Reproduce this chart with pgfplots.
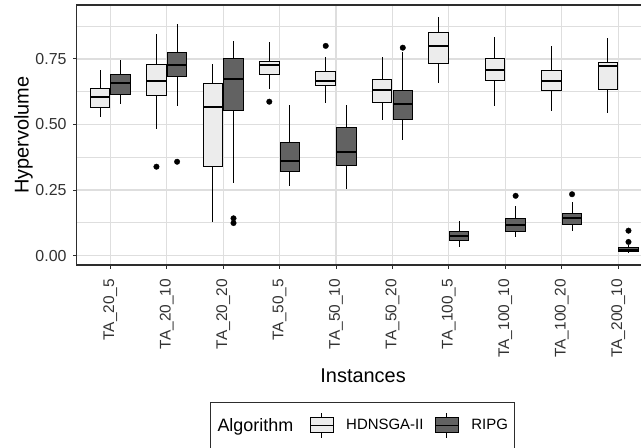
\documentclass[border=0pt]{standalone}
\usepackage{fontspec}
\setmainfont{Liberation Sans}
\usepackage{pgfplots}
\pgfplotsset{compat=1.18}
\usepgfplotslibrary{statistics}

\definecolor{hdFill}{RGB}{236,236,236}
\definecolor{ripgFill}{RGB}{98,98,98}
\definecolor{gridGray}{RGB}{222,222,222}
\definecolor{tickText}{RGB}{50,50,50}
\definecolor{frameGray}{RGB}{45,45,45}

\pgfplotsset{
  boxbase/.style={
    black, line width=1bp,
    mark=*, mark size=2.8bp, mark options={fill=black, draw=black, line width=0.3bp},
    boxplot/draw direction=y,
    boxplot/box extend=0.345,
    boxplot/whisker extend=0,
    boxplot/every median/.style={draw=black, line width=2bp},
    boxplot/every whisker/.style={draw=black, line width=1bp},
  },
  hd/.style={boxbase, boxplot/every box/.style={draw=black, fill=hdFill, line width=1bp}},
  ripg/.style={boxbase, boxplot/every box/.style={draw=black, fill=ripgFill, line width=1bp}},
  hdleg/.style={legend image code/.code={
    \path[draw=none, fill=none] (-15bp,0) -- (34bp,0);
    \draw[black, line width=1bp] (11.5bp,-12.5bp) -- (11.5bp,12.5bp);
    \draw[black, line width=1bp, fill=hdFill] (0,-7.5bp) rectangle (23bp,7.5bp);
    \draw[black, line width=1.5bp] (0,0) -- (23bp,0);
  }},
  ripgleg/.style={legend image code/.code={
    \path[draw=none, fill=none] (-10bp,0) -- (34bp,0);
    \draw[black, line width=1bp] (11.5bp,-12.5bp) -- (11.5bp,12.5bp);
    \draw[black, line width=1bp, fill=ripgFill] (0,-7.5bp) rectangle (23bp,7.5bp);
    \draw[black, line width=1.5bp] (0,0) -- (23bp,0);
  }},
}

\begin{document}
\begin{tikzpicture}
\useasboundingbox (0,0) rectangle (641bp,448bp);
\begin{scope}
\clip (0,0) rectangle (641bp,448bp);
\begin{axis}[
  at={(76.5bp,183bp)}, anchor=south west,
  scale only axis, width=575.5bp, height=260bp,
  xmin=0.4, xmax=10.6, ymin=-0.036, ymax=0.956,
  xtick={1,...,10},
  xticklabels={TA\_20\_5,TA\_20\_10,TA\_20\_20,TA\_50\_5,TA\_50\_10,TA\_50\_20,TA\_100\_5,TA\_100\_10,TA\_100\_20,TA\_200\_10},
  ytick={0,0.25,0.5,0.75},
  yticklabels={0.00,0.25,0.50,0.75},
  minor ytick={0.125,0.375,0.625,0.875},
  grid=both,
  major grid style={gridGray, line width=1.2bp},
  minor grid style={gridGray, line width=0.9bp},
  axis line style={draw=frameGray, line width=1.2bp},
  tick align=outside, tick pos=left,
  major tick length=3.5bp, minor tick length=0pt,
  tick style={frameGray, line width=1bp},
  xticklabel shift=7bp,
  yticklabel shift=3bp,
  xticklabel style={rotate=90, anchor=east, font=\fontsize{15.5}{18}\selectfont, text=tickText},
  yticklabel style={font=\fontsize{16}{18}\selectfont, text=tickText},
  xlabel={Instances},
  ylabel={Hypervolume},
  xlabel style={at={(axis description cs:0.498,-0.427)}, anchor=center, font=\fontsize{20}{22}\selectfont},
  ylabel style={at={(axis description cs:-0.092,0.5)}, anchor=center, font=\fontsize{20}{22}\selectfont},
  legend columns=-1,
  legend style={at={(axis description cs:0.232,-0.526)}, anchor=north west,
    draw=frameGray, line width=1bp, inner xsep=5bp, inner ysep=10bp,
    font=\fontsize{15}{18}\selectfont},
]
\addlegendimage{empty legend}
\addlegendentry{\fontsize{18}{20}\selectfont Algorithm}
\addlegendimage{hdleg}
\addlegendentry{HDNSGA-II}
\addlegendimage{ripgleg}
\addlegendentry{RIPG}

% TA_20_5
\addplot[hd, boxplot prepared={draw position=0.817, lower whisker=0.527, lower quartile=0.563, median=0.606, upper quartile=0.638, upper whisker=0.708}] coordinates {};
\addplot[ripg, boxplot prepared={draw position=1.183, lower whisker=0.577, lower quartile=0.616, median=0.660, upper quartile=0.690, upper whisker=0.746}] coordinates {};
% TA_20_10
\addplot[hd, boxplot prepared={draw position=1.817, lower whisker=0.484, lower quartile=0.611, median=0.665, upper quartile=0.730, upper whisker=0.844}] table[row sep=\\, y index=0] {data\\0.339\\};
\addplot[ripg, boxplot prepared={draw position=2.183, lower whisker=0.571, lower quartile=0.685, median=0.726, upper quartile=0.774, upper whisker=0.882}] table[row sep=\\, y index=0] {data\\0.358\\};
% TA_20_20
\addplot[hd, boxplot prepared={draw position=2.817, lower whisker=0.129, lower quartile=0.339, median=0.566, upper quartile=0.657, upper whisker=0.730}] coordinates {};
\addplot[ripg, boxplot prepared={draw position=3.183, lower whisker=0.276, lower quartile=0.555, median=0.672, upper quartile=0.753, upper whisker=0.819}] table[row sep=\\, y index=0] {data\\0.142\\0.124\\};
% TA_50_5
\addplot[hd, boxplot prepared={draw position=3.817, lower whisker=0.634, lower quartile=0.689, median=0.727, upper quartile=0.740, upper whisker=0.814}] table[row sep=\\, y index=0] {data\\0.587\\};
\addplot[ripg, boxplot prepared={draw position=4.183, lower whisker=0.265, lower quartile=0.320, median=0.362, upper quartile=0.432, upper whisker=0.573}] coordinates {};
% TA_50_10
\addplot[hd, boxplot prepared={draw position=4.817, lower whisker=0.583, lower quartile=0.647, median=0.666, upper quartile=0.702, upper whisker=0.759}] table[row sep=\\, y index=0] {data\\0.800\\};
\addplot[ripg, boxplot prepared={draw position=5.183, lower whisker=0.254, lower quartile=0.344, median=0.396, upper quartile=0.490, upper whisker=0.574}] coordinates {};
% TA_50_20
\addplot[hd, boxplot prepared={draw position=5.817, lower whisker=0.517, lower quartile=0.583, median=0.632, upper quartile=0.672, upper whisker=0.759}] coordinates {};
\addplot[ripg, boxplot prepared={draw position=6.183, lower whisker=0.440, lower quartile=0.520, median=0.577, upper quartile=0.629, upper whisker=0.776}] table[row sep=\\, y index=0] {data\\0.793\\};
% TA_100_5
\addplot[hd, boxplot prepared={draw position=6.817, lower whisker=0.660, lower quartile=0.734, median=0.801, upper quartile=0.852, upper whisker=0.911}] coordinates {};
\addplot[ripg, boxplot prepared={draw position=7.183, lower whisker=0.034, lower quartile=0.056, median=0.076, upper quartile=0.092, upper whisker=0.132}] coordinates {};
% TA_100_10
\addplot[hd, boxplot prepared={draw position=7.817, lower whisker=0.571, lower quartile=0.666, median=0.708, upper quartile=0.750, upper whisker=0.833}] coordinates {};
\addplot[ripg, boxplot prepared={draw position=8.183, lower whisker=0.069, lower quartile=0.091, median=0.116, upper quartile=0.140, upper whisker=0.189}] table[row sep=\\, y index=0] {data\\0.228\\};
% TA_100_20
\addplot[hd, boxplot prepared={draw position=8.817, lower whisker=0.553, lower quartile=0.628, median=0.665, upper quartile=0.705, upper whisker=0.800}] coordinates {};
\addplot[ripg, boxplot prepared={draw position=9.183, lower whisker=0.095, lower quartile=0.119, median=0.142, upper quartile=0.161, upper whisker=0.203}] table[row sep=\\, y index=0] {data\\0.234\\};
% TA_200_10
\addplot[hd, boxplot prepared={draw position=9.817, lower whisker=0.543, lower quartile=0.632, median=0.723, upper quartile=0.736, upper whisker=0.829}] coordinates {};
\addplot[ripg, boxplot prepared={draw position=10.183, lower whisker=0.012, lower quartile=0.014, median=0.021, upper quartile=0.029, upper whisker=0.042}] table[row sep=\\, y index=0] {data\\0.052\\0.095\\};
\end{axis}
\end{scope}
\end{tikzpicture}
\end{document}
